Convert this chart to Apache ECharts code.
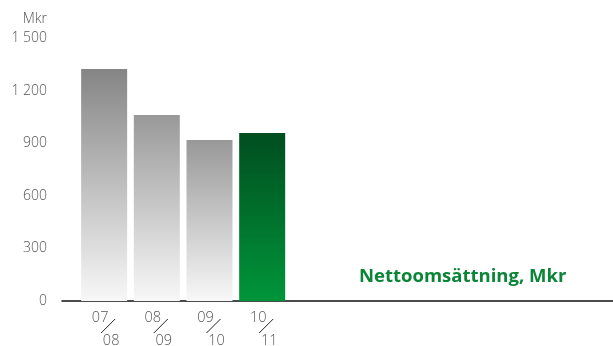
<!DOCTYPE html>
<html><head><meta charset="utf-8">
<script src="https://cdn.jsdelivr.net/npm/echarts@6/dist/echarts.min.js"></script>
<style>html,body{margin:0;padding:0;background:#fff}#c{width:613px;height:346px}</style>
</head><body><div id="c"></div>
<script>
const positions = [0, 1, 2, 3];
const values = [1323, 1061, 918, 958];
const labelTop = ['07', '08', '09', '10'];
const labelBottom = ['08', '09', '10', '11'];
const yTicks = [0, 300, 600, 900, 1200, 1500];
const titleText = 'Nettoomsättning, Mkr';
const unitText = 'Mkr';

const FONT = '"Open Sans", "Noto Sans", sans-serif';
function grey(top) {
  return new echarts.graphic.LinearGradient(0, 0, 0, 1, [
    { offset: 0, color: top }, { offset: 1, color: '#f8f8f8' }]);
}
const barColors = [grey('#858585'), grey('#999999'), grey('#989898'),
  new echarts.graphic.LinearGradient(0, 0, 0, 1, [
    { offset: 0, color: '#004e1f' }, { offset: 1, color: '#00953a' }])];

const chart = echarts.init(document.getElementById('c'), null, { renderer: 'canvas' });
chart.setOption({
  animation: false,
  grid: { left: 62, right: 0, top: 38, bottom: 45 },
  title: {
    text: titleText, left: 359, top: 267, padding: 0,
    textStyle: { color: '#0b8538', fontSize: 18.5, fontWeight: 'bold', fontFamily: FONT }
  },
  graphic: [{
    type: 'text',
    style: { text: unitText, x: 47, y: 19, align: 'right', verticalAlign: 'middle',
      font: '300 14px ' + FONT, fill: '#555' }
  }],
  xAxis: {
    type: 'value', min: -0.8, max: 9.66,
    axisLine: { show: true, onZero: false, lineStyle: { color: '#111', width: 1.5 } },
    axisTick: { show: false }, axisLabel: { show: false }, splitLine: { show: false }
  },
  yAxis: {
    type: 'value', min: yTicks[0], max: yTicks[yTicks.length - 1], interval: 300,
    axisLine: { show: false }, axisTick: { show: false }, splitLine: { show: false },
    axisLabel: {
      margin: 15, color: '#555', fontSize: 14, fontFamily: FONT, fontWeight: 300,
      formatter: v => String(v).replace(/\B(?=(\d{3})+(?!\d))/g, ' ')
    }
  },
  series: [{
    type: 'bar', barWidth: 46,
    data: positions.map((p, i) => ({ value: [p, values[i]], itemStyle: { color: barColors[i] } }))
  }, {
    type: 'custom', clip: false, silent: true,
    data: positions.map(p => [p, 0]),
    renderItem: (params, api) => {
      const i = params.dataIndex;
      const pt = api.coord([api.value(0), 0]);
      const x = pt[0], y = pt[1];
      return { type: 'group', children: [
        { type: 'text', style: { text: labelTop[i], x: x - 4, y: y + 17, align: 'center',
          verticalAlign: 'middle', font: '300 14.5px ' + FONT, fill: '#555' } },
        { type: 'line', shape: { x1: x - 3, y1: y + 32, x2: x + 11, y2: y + 18 },
          style: { stroke: '#222', lineWidth: 1 } },
        { type: 'text', style: { text: labelBottom[i], x: x + 7, y: y + 40, align: 'center',
          verticalAlign: 'middle', font: '300 14.5px ' + FONT, fill: '#555' } }
      ] };
    }
  }]
});
</script></body></html>
